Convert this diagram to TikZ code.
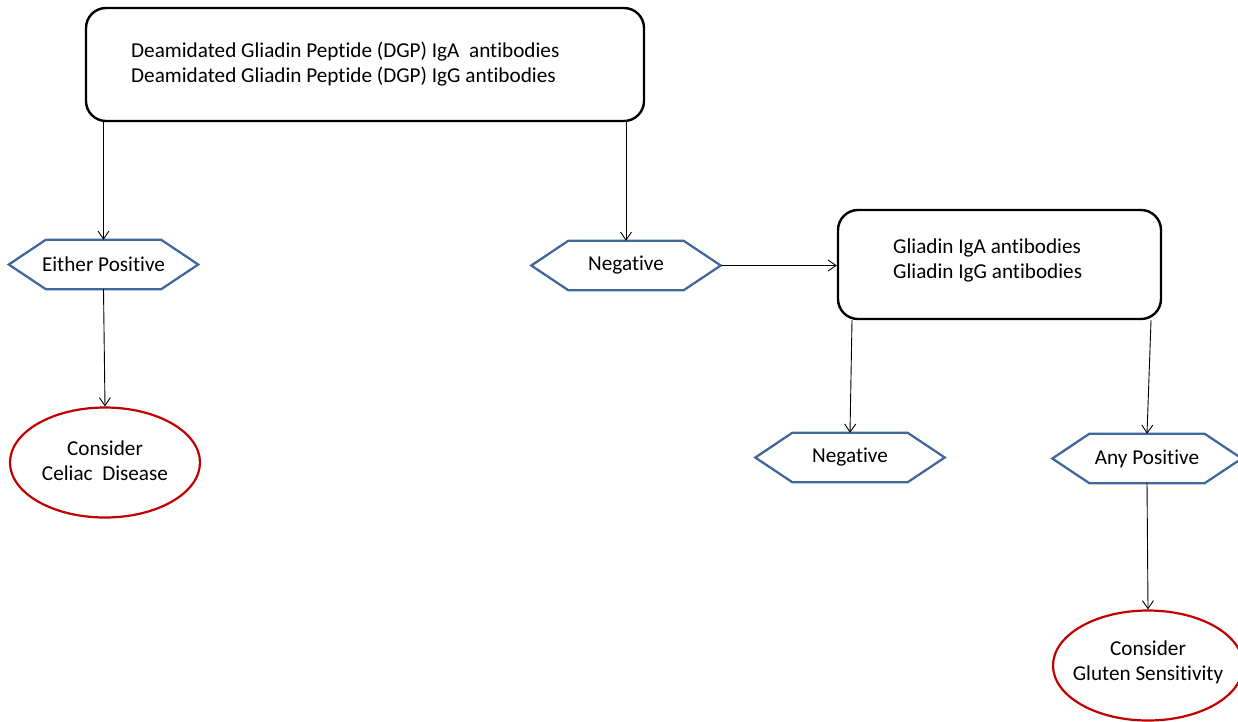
\documentclass[tikz,border=0pt]{standalone}
\usepackage{fontspec}
\setmainfont{Carlito}[Ligatures=NoCommon]
\usetikzlibrary{arrows.meta,shapes.geometric}
\definecolor{hexblue}{HTML}{41679B}
\definecolor{ovalred}{HTML}{C00000}
\tikzset{
  mainbox/.style={draw=black, line width=2.4pt, rounded corners=20pt, inner sep=0pt},
  hexbox/.style={inner sep=0pt, minimum width=189pt, minimum height=49pt},
  hexline/.style={draw=hexblue, line width=2.3pt, line join=miter},
  oval/.style={draw=ovalred, line width=2.2pt, ellipse, inner sep=0pt, minimum width=190pt, minimum height=110pt},
  arr/.style={-{Straight Barb[length=8pt,width=11pt]}, line width=0.9pt},
  txt/.style={font=\fontsize{21.2pt}{25pt}\selectfont}
}
\begin{document}
\begin{tikzpicture}[x=1pt,y=-1pt, txt]
\useasboundingbox (0,0) rectangle (1238,721);
% top box
\node[mainbox, minimum width=558pt, minimum height=113pt] (top) at (365,64.5) {};
\node[anchor=west, align=left, inner sep=0pt] (toptxt) at (131,64) {Deamidated Gliadin Peptide (DGP) IgA\ \ antibodies\\Deamidated Gliadin Peptide (DGP) IgG antibodies};
% second box
\node[mainbox, minimum width=323pt, minimum height=109pt] (box2) at (999.5,264.5) {};
\node[anchor=west, align=left, inner sep=0pt] (box2txt) at (893,260) {Gliadin IgA antibodies\\Gliadin IgG antibodies};
% hexagons
\node[hexbox] (ep) at (103.5,264.5) {Either Positive};
\node[hexbox] (neg1) at (626,265.5) {Negative};
\node[hexbox] (neg2) at (850,457.5) {Negative};
\node[hexbox] (anyp) at (1147,458.5) {Any Positive};
\foreach \h in {ep,neg1,neg2,anyp}{
  \draw[hexline] (\h.west) -- ([xshift=37pt]\h.north west) -- ([xshift=-37pt]\h.north east) -- (\h.east) -- ([xshift=-37pt]\h.south east) -- ([xshift=37pt]\h.south west) -- cycle;
}
% ovals
\node[oval] (celiac) at (105,462.5) {};
\node[align=center, inner sep=0pt] (celiactxt) at (105,461) {Consider\\Celiac\ \ Disease};
\node[oval] (gluten) at (1148,665.5) {};
\node[align=center, inner sep=0pt] (glutentxt) at (1148,662.5) {Consider\\Gluten Sensitivity};
% connectors
\draw[arr] (top.south -| ep.north) -- (ep.north);
\draw[arr] (top.south -| neg1.north) -- (neg1.north);
\draw[arr] (ep.south) -- (celiac.north);
\draw[arr] (neg1.east) -- (box2.west |- neg1.east);
\draw[arr] ([xshift=2pt]box2.south -| neg2.north) -- (neg2.north);
\draw[arr] ([xshift=4pt]box2.south -| anyp.north) -- (anyp.north);
\draw[arr] (anyp.south) -- (gluten.north);
\end{tikzpicture}
\end{document}
